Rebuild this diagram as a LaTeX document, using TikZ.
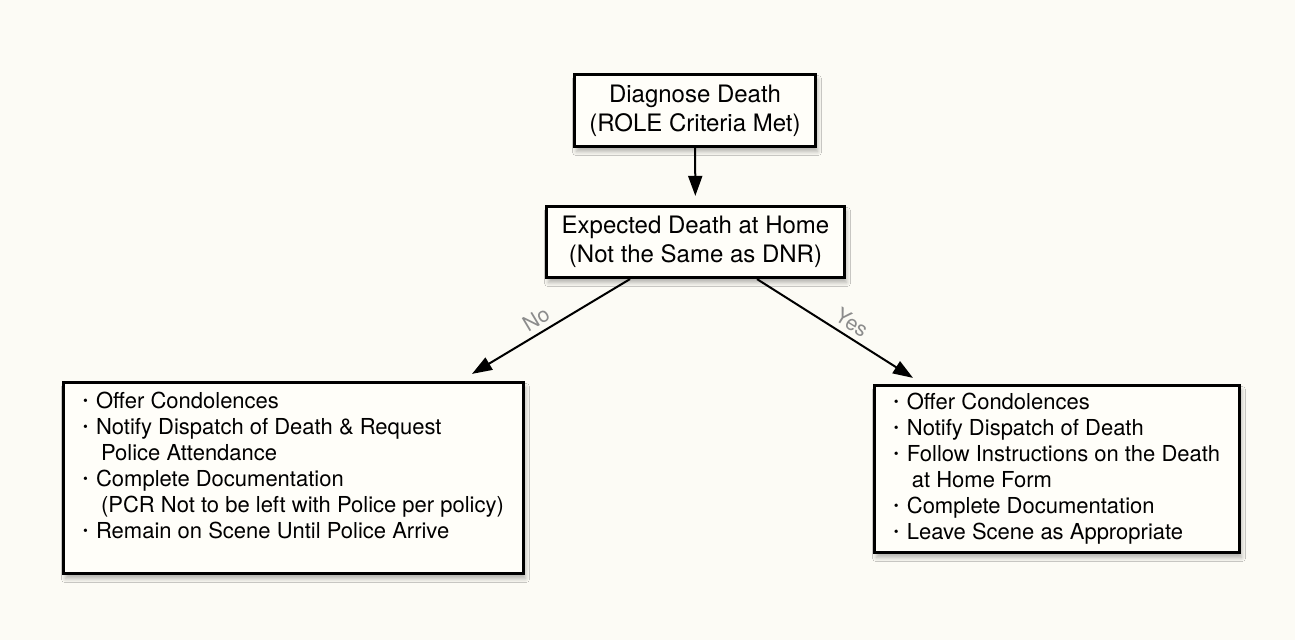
\documentclass[tikz,border=0pt]{standalone}
\usepackage{fontspec}
\setmainfont{TeX Gyre Heros}
\usepackage{tikz}
\usetikzlibrary{arrows.meta,positioning,calc,shadows.blur}
\usepackage{xcolor}
\definecolor{pagecream}{RGB}{252,251,245}
\definecolor{boxcream}{RGB}{255,254,249}
\definecolor{labelgray}{RGB}{140,140,140}
\newcommand{\bul}{\makebox[6.5pt][l]{\raisebox{0.25ex}{\scalebox{0.62}{\textbullet}}}}
\newcommand{\ind}{\hspace*{9pt}}

\begin{document}
\begin{tikzpicture}[
    x=0.5pt, y=-0.5pt,
    box/.style={draw, line width=1.6pt, fill=boxcream, align=center,
        font=\fontsize{12}{14.5}\selectfont,
        blur shadow={shadow xshift=1pt, shadow yshift=-2.5pt, shadow blur steps=8, shadow opacity=30}},
    listbox/.style={box, align=left, font=\fontsize{11}{13}\selectfont},
    arrow/.style={-{Triangle[length=10pt,width=7pt]}, line width=1pt},
    answer/.style={sloped, above, inner sep=2.5pt, text=labelgray, font=\fontsize{10.5}{12}\selectfont}
]
    \fill[pagecream] (0,0) rectangle (1295,640);
    \useasboundingbox (0,0) rectangle (1295,640);

    \node[box, minimum width=120.5pt, minimum height=36pt] (diagnose) at (695,110.5)
        {Diagnose Death\\(ROLE Criteria Met)};
    \node[box, minimum width=149pt, minimum height=35.5pt] (expected) at (695.5,242)
        {Expected Death at Home\\(Not the Same as DNR)};

    \node[listbox, minimum width=230pt, minimum height=95.5pt] (nobox) at (293.5,478)
        {\bul Offer Condolences\\
         \bul Notify Dispatch of Death \& Request\\
         \ind Police Attendance\\
         \bul Complete Documentation\\
         \ind (PCR Not to be left with Police per policy)\\
         \bul Remain on Scene Until Police Arrive\\
         \mbox{}};
    \node[listbox, minimum width=182.5pt, minimum height=83.5pt] (yesbox) at (1057,469)
        {\bul Offer Condolences\\
         \bul Notify Dispatch of Death\\
         \bul Follow Instructions on the Death\\
         \ind at Home Form\\
         \bul Complete Documentation\\
         \bul Leave Scene as Appropriate};

    \draw[arrow, shorten >=4.5pt] (diagnose) -- (expected);
    \draw[arrow] ($(expected.south)+(-65.5,0)$) -- node[answer, pos=0.55] {No} ($(nobox.north)+(178.5,-7)$);
    \draw[arrow] ($(expected.south)+(61.5,0)$) -- node[answer, pos=0.56] {Yes} ($(yesbox.north)+(-144,-6)$);
\end{tikzpicture}
\end{document}
